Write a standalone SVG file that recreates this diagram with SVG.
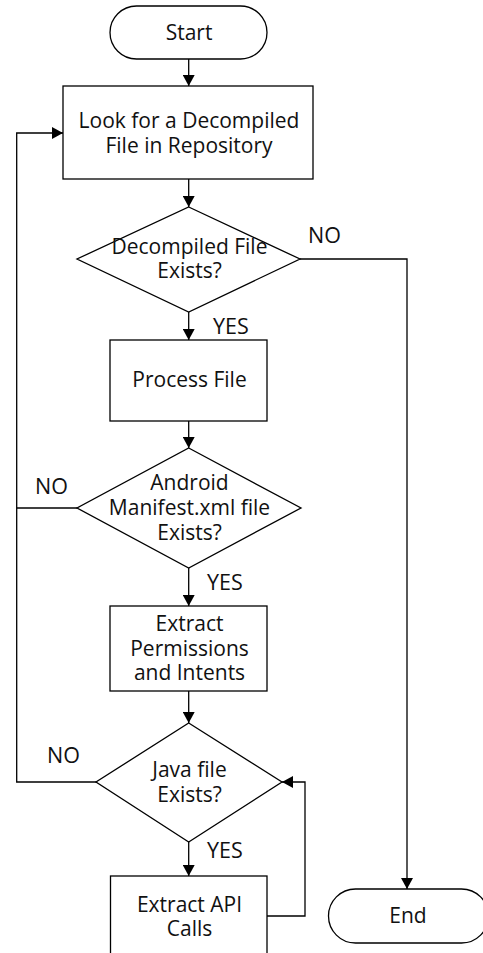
<svg xmlns="http://www.w3.org/2000/svg" width="483" height="953" viewBox="0 0 483 953">
<style>
.shape{fill:#fff;stroke:#000;stroke-width:1.3}
.t{font-family:"Open Sans","Noto Sans",sans-serif;font-size:21px;fill:#111;text-anchor:middle}
.lbl{font-family:"Open Sans","Noto Sans",sans-serif;font-size:21.5px;fill:#111}
.line{fill:none;stroke:#000;stroke-width:1.3}
</style>
<defs>
<marker id="arr" markerUnits="userSpaceOnUse" markerWidth="12" markerHeight="12" refX="11" refY="6" orient="auto">
<path d="M0,0 L11,6 L0,12 z" fill="#000"/>
</marker>
</defs>
<rect width="483" height="953" fill="#fff"/>
<g id="connectors">
<line class="line" x1="188.7" y1="59" x2="188.7" y2="86" marker-end="url(#arr)"/>
<line class="line" x1="188.7" y1="179" x2="188.7" y2="207" marker-end="url(#arr)"/>
<polyline class="line" points="300,259 407,259 407,889" marker-end="url(#arr)"/>
<line class="line" x1="188.7" y1="312" x2="188.7" y2="340" marker-end="url(#arr)"/>
<line class="line" x1="188.7" y1="421" x2="188.7" y2="448" marker-end="url(#arr)"/>
<polyline class="line" points="77,508 16.7,508"/>
<polyline class="line" points="96,782 16.7,782 16.7,133 63,133" marker-end="url(#arr)"/>
<line class="line" x1="188.7" y1="568" x2="188.7" y2="606" marker-end="url(#arr)"/>
<line class="line" x1="188.7" y1="691" x2="188.7" y2="723" marker-end="url(#arr)"/>
<line class="line" x1="188.7" y1="842" x2="188.7" y2="876" marker-end="url(#arr)"/>
<polyline class="line" points="267,916 305,916 305,782 282,782" marker-end="url(#arr)"/>
<text class="lbl" x="308" y="243">NO</text>
<text class="lbl" x="213" y="334">YES</text>
<text class="lbl" x="35" y="494">NO</text>
<text class="lbl" x="207" y="590">YES</text>
<text class="lbl" x="47" y="763">NO</text>
<text class="lbl" x="207" y="858">YES</text>
</g>
<g id="start">
<rect class="shape" x="110" y="6" width="157" height="53" rx="26.5"/>
<text class="t" x="189" y="40">Start</text>
</g>
<g id="look">
<rect class="shape" x="63" y="86" width="250" height="93"/>
<text class="t" x="189" y="128">Look for a Decompiled</text>
<text class="t" x="189" y="153">File in Repository</text>
</g>
<g id="exists1">
<polygon class="shape" points="188.7,207 300,259 188.7,312 77,259"/>
<text class="t" x="189.5" y="254">Decompiled File</text>
<text class="t" x="189.5" y="278">Exists?</text>
</g>
<g id="process">
<rect class="shape" x="110" y="340" width="157" height="81"/>
<text class="t" x="189.5" y="387">Process File</text>
</g>
<g id="exists2">
<polygon class="shape" points="188.7,448 301,508 188.7,568 77,508"/>
<text class="t" x="189.5" y="490">Android</text>
<text class="t" x="189.5" y="515">Manifest.xml file</text>
<text class="t" x="189.5" y="540">Exists?</text>
</g>
<g id="extract-perm">
<rect class="shape" x="110" y="606" width="157" height="85"/>
<text class="t" x="189.5" y="631">Extract</text>
<text class="t" x="189.5" y="656">Permissions</text>
<text class="t" x="189.5" y="680">and Intents</text>
</g>
<g id="exists3">
<polygon class="shape" points="188.7,723 282,782 188.7,842 96,782"/>
<text class="t" x="189.5" y="777">Java file</text>
<text class="t" x="189.5" y="802">Exists?</text>
</g>
<g id="extract-api">
<rect class="shape" x="110.5" y="876" width="156.5" height="90"/>
<text class="t" x="189.5" y="912">Extract API</text>
<text class="t" x="189.5" y="936">Calls</text>
</g>
<g id="end">
<rect class="shape" x="328.5" y="889" width="160" height="54" rx="27"/>
<text class="t" x="408" y="923">End</text>
</g>
</svg>
